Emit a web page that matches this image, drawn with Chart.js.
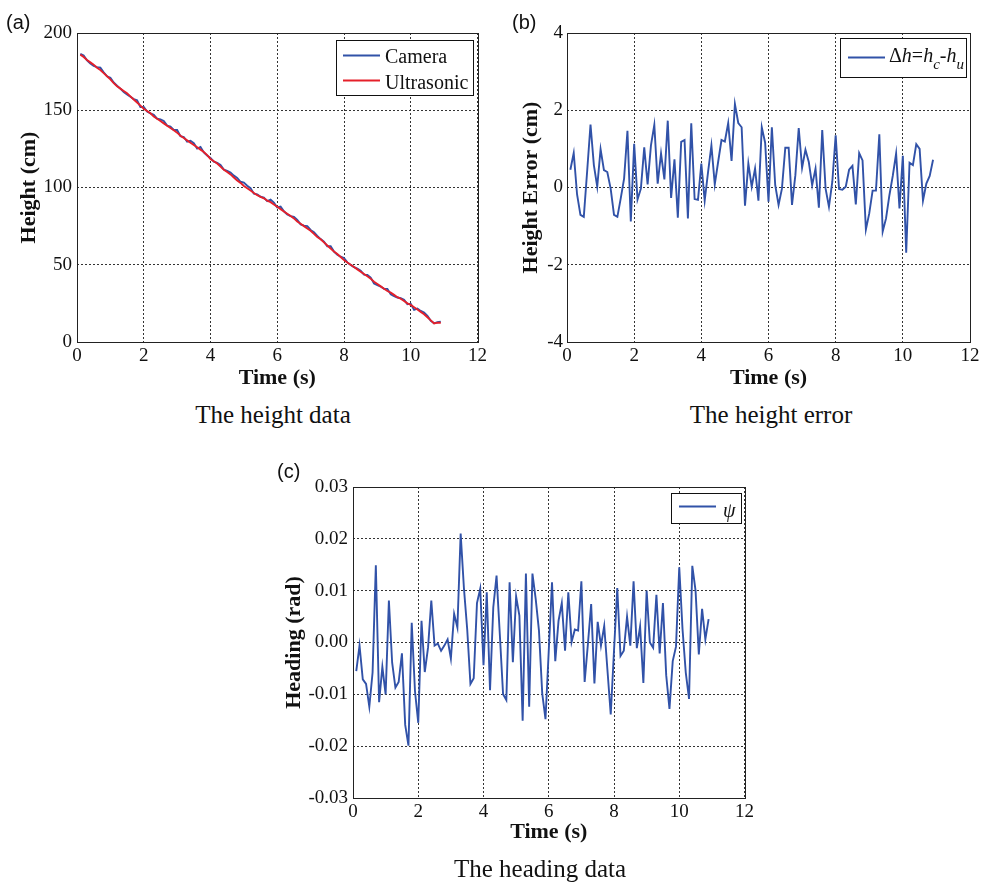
<!DOCTYPE html>
<html>
<head>
<meta charset="utf-8">
<script src="https://cdn.jsdelivr.net/npm/chart.js@4.4.0/dist/chart.umd.min.js"></script>
<style>
body { margin:0; background:#fff; width:985px; height:886px; position:relative; overflow:hidden; }
canvas { position:absolute; }
.tag { position:absolute; font:20px "Liberation Sans", Arial, sans-serif; line-height:20px; color:#111; }
.cap { position:absolute; width:300px; text-align:center; font:25px "Liberation Serif", "Times New Roman", serif; line-height:25px; color:#111; }
</style>
</head>
<body>
<canvas id="chartA" width="490" height="400" style="left:0;top:0"></canvas>
<canvas id="chartB" width="495" height="400" style="left:490px;top:0"></canvas>
<canvas id="chartC" width="490" height="420" style="left:270px;top:440px"></canvas>
<div class="tag" style="left:6px;top:12px">(a)</div>
<div class="tag" style="left:512px;top:12px">(b)</div>
<div class="tag" style="left:277px;top:461px">(c)</div>
<div class="cap" style="left:123px;top:402px">The height data</div>
<div class="cap" style="left:621px;top:402px">The height error</div>
<div class="cap" style="left:390px;top:856px">The heading data</div>
<script>
// sample times (s)
var times = [0.1, 0.2, 0.3, 0.4, 0.5, 0.6, 0.7, 0.8, 0.9, 1.0,
    1.1, 1.2, 1.3, 1.4, 1.5, 1.6, 1.7, 1.8, 1.9, 2.0,
    2.1, 2.2, 2.3, 2.4, 2.5, 2.6, 2.7, 2.8, 2.9, 3.0,
    3.1, 3.2, 3.3, 3.4, 3.5, 3.6, 3.7, 3.8, 3.9, 4.0,
    4.1, 4.2, 4.3, 4.4, 4.5, 4.6, 4.7, 4.8, 4.9, 5.0,
    5.1, 5.2, 5.3, 5.4, 5.5, 5.6, 5.7, 5.8, 5.9, 6.0,
    6.1, 6.2, 6.3, 6.4, 6.5, 6.6, 6.7, 6.8, 6.9, 7.0,
    7.1, 7.2, 7.3, 7.4, 7.5, 7.6, 7.7, 7.8, 7.9, 8.0,
    8.1, 8.2, 8.3, 8.4, 8.5, 8.6, 8.7, 8.8, 8.9, 9.0,
    9.1, 9.2, 9.3, 9.4, 9.5, 9.6, 9.7, 9.8, 9.9, 10.0,
    10.1, 10.2, 10.3, 10.4, 10.5, 10.6, 10.7, 10.8, 10.9];

// height (cm)
var ultrasonic = [186, 184.5, 182.5, 181, 179.5, 177.5, 176, 174, 172, 170,
    167.5, 165.5, 164, 162.5, 161, 159, 157, 155, 153, 151,
    149.5, 148, 146, 144.5, 143, 141.5, 140, 138.5, 137, 135.5,
    133.5, 132, 130.5, 129, 127.5, 126, 124.5, 123, 121, 118.5,
    117, 115.5, 113.5, 111.5, 110, 108.5, 106.5, 104.5, 103, 101,
    99.5, 98, 96.5, 95, 94, 93, 91.5, 90.5, 89, 87.5,
    86, 84.5, 83, 81.5, 80, 78, 76.5, 75, 73.5, 72,
    70, 68, 66.5, 64.5, 62.5, 60.5, 58.5, 57, 55, 53,
    51.5, 50, 48.5, 47, 45.5, 44, 42.5, 41, 39, 37.5,
    36, 34.5, 33, 32, 30.5, 29, 28, 26.5, 25, 24,
    22.5, 21, 19.5, 18, 16, 14, 12, 12.5, 12.5];
var camera = [186.5, 185.4, 182.3, 180.3, 178.7, 177.9, 177.6, 174.6, 172.0, 171.0,
    168.0, 165.9, 164.0, 161.8, 160.2, 158.7, 157.2, 156.5, 152.1, 152.1,
    149.2, 148.0, 147.0, 144.6, 144.1, 143.1, 140.1, 139.4, 137.2, 137.2,
    133.2, 132.7, 129.7, 130.2, 128.7, 125.2, 126.2, 122.7, 120.7, 119.1,
    116.7, 115.9, 114.6, 111.6, 110.7, 109.7, 107.7, 106.2, 103.7, 103.2,
    101.2, 99.6, 96.0, 95.6, 94.0, 93.5, 91.2, 92.1, 90.2, 87.1,
    87.6, 84.6, 82.6, 81.5, 81.0, 79.0, 76.1, 75.3, 75.0, 72.5,
    71.0, 68.7, 66.6, 65.0, 62.0, 62.0, 58.5, 56.5, 55.2, 54.4,
    51.5, 49.9, 48.5, 47.5, 46.1, 43.6, 43.4, 41.7, 37.9, 36.8,
    35.9, 34.4, 34.4, 30.9, 29.7, 28.8, 28.3, 27.4, 24.5, 24.8,
    20.8, 21.6, 20.1, 19.1, 17.0, 13.7, 12.1, 12.8, 13.2];

// camera minus ultrasonic (cm)
var heightError = [0.46, 0.89, -0.18, -0.71, -0.76, 0.42, 1.63, 0.58, 0.02, 0.99,
    0.45, 0.40, -0.03, -0.71, -0.76, -0.28, 0.23, 1.47, -0.88, 1.13,
    -0.31, -0.03, 1.04, 0.08, 1.09, 1.62, 0.10, 0.88, 0.21, 1.73,
    -0.27, 0.73, -0.78, 1.18, 1.23, -0.80, 1.66, -0.30, -0.32, 0.62,
    -0.34, 0.40, 1.09, 0.08, 0.66, 1.23, 1.19, 1.67, 0.69, 2.16,
    1.67, 1.56, -0.47, 0.62, 0.02, 0.49, -0.34, 1.56, 1.16, -0.37,
    1.56, 0.06, -0.45, -0.03, 1.03, 1.03, -0.45, 0.32, 1.54, 0.51,
    0.98, 0.66, 0.06, 0.49, -0.52, 1.49, -0.03, -0.50, 0.15, 1.35,
    -0.04, -0.06, 0.02, 0.46, 0.56, -0.44, 0.89, 0.70, -1.09, -0.67,
    -0.08, -0.08, 1.38, -1.14, -0.80, -0.20, 0.30, 0.88, -0.54, 0.82,
    -1.69, 0.64, 0.58, 1.12, 1.00, -0.34, 0.10, 0.30, 0.72];

// heading (rad)
var heading = [-0.0055, -0.0006, -0.0071, -0.0080, -0.0124, -0.0058, 0.0149, -0.0115, -0.0047, -0.0100,
    0.0081, -0.0039, -0.0087, -0.0076, -0.0021, -0.0159, -0.0199, 0.0038, -0.0094, -0.0155,
    0.0042, -0.0057, -0.0010, 0.0081, -0.0006, -0.0002, -0.0016, -0.0006, 0.0006, -0.0031,
    0.0055, 0.0029, 0.0210, 0.0105, 0.0026, -0.0080, -0.0069, 0.0076, 0.0104, -0.0044,
    0.0097, -0.0092, 0.0068, 0.0129, 0.0016, -0.0100, -0.0111, 0.0116, -0.0038, 0.0089,
    0.0052, -0.0151, 0.0133, -0.0124, 0.0133, 0.0084, 0.0023, -0.0098, -0.0148, -0.0016,
    0.0116, -0.0036, 0.0042, 0.0076, -0.0016, 0.0097, 0.0001, 0.0025, 0.0023, 0.0118,
    -0.0076, -0.0003, 0.0074, -0.0079, 0.0040, -0.0006, 0.0032, -0.0054, -0.0139, -0.0016,
    0.0105, -0.0026, -0.0016, 0.0050, -0.0006, 0.0118, -0.0011, 0.0031, -0.0078, 0.0100,
    0.0000, -0.0010, 0.0092, -0.0021, 0.0076, -0.0063, -0.0128, -0.0036, -0.0008, 0.0145,
    0.0026, -0.0058, -0.0109, 0.0148, 0.0100, -0.0023, 0.0065, 0.0006, 0.0045];

var timeTicks = [0, 2, 4, 6, 8, 10, 12];
var heightTicks = [0, 50, 100, 150, 200];
var errorTicks = [-4, -2, 0, 2, 4];
var headingTicks = [-0.03, -0.02, -0.01, 0, 0.01, 0.02, 0.03];

var SERIF = '"Liberation Serif", "Times New Roman", serif';
var BLUE = '#3152a8';
var RED = '#e5202a';

function pts(ys) {
    return ys.map(function(y, i) { return { x: times[i], y: y }; });
}

// axes box + boxed legend like the MATLAB figure
var framePlugin = {
    id: 'frame',
    afterDraw: function(chart, args, opts) {
        var ctx = chart.ctx, a = chart.chartArea;
        ctx.save();
        ctx.setLineDash([]);
        ctx.strokeStyle = '#222';
        ctx.lineWidth = 1;
        ctx.strokeRect(Math.round(a.left) + 0.5, Math.round(a.top) + 0.5,
            Math.round(a.right - a.left), Math.round(a.bottom - a.top));
        var lg = opts.legend;
        if (lg) {
            ctx.fillStyle = '#fff';
            ctx.fillRect(lg.x, lg.y, lg.w, lg.h);
            ctx.strokeStyle = '#111';
            ctx.strokeRect(lg.x + 0.5, lg.y + 0.5, lg.w, lg.h);
            lg.rows.forEach(function(r) {
                var ds = chart.data.datasets[r.dataset];
                ctx.strokeStyle = ds.borderColor;
                ctx.lineWidth = 2;
                ctx.beginPath();
                ctx.moveTo(lg.lineX0, r.lineY);
                ctx.lineTo(lg.lineX1, r.lineY);
                ctx.stroke();
                var x = lg.textX;
                ctx.fillStyle = '#111';
                ctx.textAlign = 'left';
                ctx.textBaseline = 'alphabetic';
                var parts = r.parts || [{ t: ds.label }];
                parts.forEach(function(p) {
                    var size = p.sub ? 15 : 20;
                    ctx.font = (p.it ? 'italic ' : '') + size + 'px ' + SERIF;
                    ctx.fillText(p.t, x, r.base + (p.sub ? 7 : 0));
                    x += ctx.measureText(p.t).width + (p.gap || 0);
                });
            });
        }
        ctx.restore();
    }
};

function axes(o) {
    return {
        x: {
            type: 'linear', min: 0, max: 12,
            afterBuildTicks: function(s) { s.ticks = timeTicks.map(function(v) { return { value: v }; }); },
            afterFit: function(s) { s.height = o.xh; },
            grid: { color: '#333', lineWidth: 1, drawTicks: false },
            border: { display: false, dash: [2, 2] },
            ticks: { padding: 3, color: '#111', maxRotation: 0, autoSkip: false, font: { family: SERIF, size: 19 } },
            title: { display: true, text: 'Time (s)', color: '#111',
                font: { family: SERIF, size: 22, weight: 'bold' }, padding: { top: 0, bottom: o.xtb } }
        },
        y: {
            type: 'linear', min: o.ymin, max: o.ymax,
            afterBuildTicks: function(s) { s.ticks = o.yticks.map(function(v) { return { value: v }; }); },
            afterFit: function(s) { s.width = o.yw; },
            grid: { color: '#333', lineWidth: 1, drawTicks: false },
            border: { display: false, dash: [2, 2] },
            ticks: { padding: o.ytp, color: '#111', autoSkip: false, font: { family: SERIF, size: 19 },
                callback: o.fmt || function(v) { return String(v); } },
            title: { display: true, text: o.ytitle, color: '#111',
                font: { family: SERIF, size: 22, weight: 'bold' }, padding: { top: o.ytt, bottom: 0 } }
        }
    };
}

function lineSet(label, ys, color, order) {
    return { label: label, data: pts(ys), borderColor: color, backgroundColor: color,
        borderWidth: 1.9, pointRadius: 0, tension: 0, fill: false, order: order };
}

function makeChart(id, datasets, scales, padding, legend) {
    var ctx = document.getElementById(id).getContext('2d');
    return new Chart(ctx, {
        type: 'line',
        data: { datasets: datasets },
        options: {
            responsive: false,
            animation: false,
            devicePixelRatio: 1,
            layout: { padding: padding },
            scales: scales,
            plugins: {
                legend: { display: false },
                tooltip: { enabled: false },
                frame: { legend: legend }
            }
        },
        plugins: [framePlugin]
    });
}

window.onload = function() {
    makeChart('chartA',
        [lineSet('Camera', camera, BLUE, 1), lineSet('Ultrasonic', ultrasonic, RED, 0)],
        axes({ xh: 58, xtb: 8, yw: 77, ytp: 5, ytt: 16, ymin: 0, ymax: 200,
            yticks: heightTicks, ytitle: 'Height (cm)' }),
        { top: 33, right: 12, left: 0, bottom: 0 },
        { x: 336, y: 40, w: 137, h: 55, lineX0: 343, lineX1: 380, textX: 385,
            rows: [{ dataset: 0, lineY: 55.5, base: 63 }, { dataset: 1, lineY: 80.5, base: 89 }] });

    makeChart('chartB',
        [lineSet('\u0394h=hc-hu', heightError, BLUE, 0)],
        axes({ xh: 58, xtb: 8, yw: 77, ytp: 4, ytt: 28, ymin: -4, ymax: 4,
            yticks: errorTicks, ytitle: 'Height Error (cm)' }),
        { top: 33, right: 15, left: 0, bottom: 0 },
        { x: 350, y: 38, w: 126, h: 39, lineX0: 358, lineX1: 395, textX: 399,
            rows: [{ dataset: 0, lineY: 57.5, base: 62, parts: [
                { t: '\u0394' }, { t: 'h', it: true }, { t: '=' }, { t: 'h', it: true },
                { t: 'c', it: true, sub: true }, { t: '-' }, { t: 'h', it: true }, { t: 'u', it: true, sub: true }] }] });

    makeChart('chartC',
        [lineSet('\u03c8', heading, BLUE, 0)],
        axes({ xh: 62, xtb: 14, yw: 83, ytp: 5, ytt: 11, ymin: -0.03, ymax: 0.03,
            yticks: headingTicks, ytitle: 'Heading (rad)',
            fmt: function(v) { return Math.abs(v) < 1e-9 ? '0.00' : v.toFixed(2); } }),
        { top: 47, right: 15.5, left: 0, bottom: 0 },
        { x: 401, y: 53, w: 70, h: 30, lineX0: 409, lineX1: 446, textX: 453,
            rows: [{ dataset: 0, lineY: 66.5, base: 77, parts: [{ t: '\u03c8', it: true }] }] });
};
</script>
</body>
</html>
